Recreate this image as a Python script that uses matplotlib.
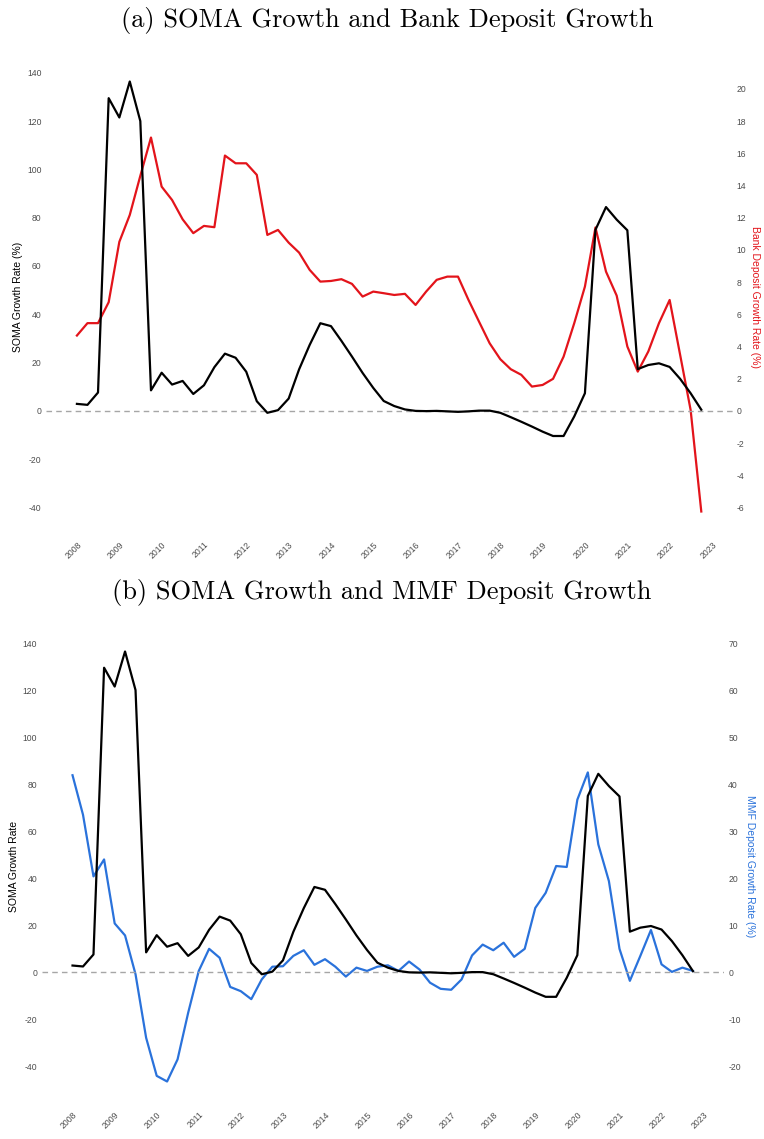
import numpy as np
import pandas as pd
import matplotlib
matplotlib.use("Agg")
import matplotlib.pyplot as plt
import matplotlib.dates as mdates

# quarterly observations, 2008Q1 .. 2022Q4
quarters = pd.date_range("2008-01-01", periods=60, freq="QS")

soma_growth = [2.9, 2.5, 7.6, 129.5, 121.5, 136.4, 120.0, 8.5, 15.8, 10.9,
               12.4, 7.0, 10.6, 18.1, 23.7, 22.0, 16.2, 4.0, -0.8, 0.3,
               5.1, 17.2, 27.3, 36.3, 35.1, 29.0, 22.5, 15.7, 9.5, 4.1,
               2.0, 0.6, 0.0, -0.1, 0.0, -0.2, -0.4, -0.2, 0.1, 0.1,
               -0.8, -2.6, -4.5, -6.5, -8.6, -10.4, -10.4, -2.3, 7.3, 75.0,
               84.4, 79.2, 74.8, 17.3, 19.0, 19.7, 18.2, 13.3, 7.3, 0.5]

bank_deposit_growth = [4.68, 5.45, 5.45, 6.75, 10.5, 12.17, 14.6, 16.98, 13.93, 13.1,
                       11.9, 11.04, 11.49, 11.41, 15.86, 15.38, 15.38, 14.66, 10.93, 11.24,
                       10.45, 9.83, 8.76, 8.03, 8.07, 8.18, 7.89, 7.1, 7.41, 7.31,
                       7.2, 7.27, 6.58, 7.41, 8.14, 8.34, 8.34, 6.9, 5.55, 4.2,
                       3.21, 2.59, 2.24, 1.51, 1.61, 1.99, 3.37, 5.45, 7.72, 11.39,
                       8.65, 7.16, 4.0, 2.44, 3.69, 5.45, 6.89, 3.5, 0.06, -6.25]

mmf_deposit_growth = [41.9, 33.5, 20.4, 24.0, 10.4, 7.85, -0.4, -13.9, -22.0, -23.2,
                      -18.5, -8.6, 0.3, 5.0, 3.1, -3.1, -4.0, -5.7, -1.5, 1.2,
                      1.3, 3.5, 4.7, 1.6, 2.8, 1.2, -0.9, 1.0, 0.3, 1.2,
                      1.5, 0.3, 2.3, 0.6, -2.2, -3.5, -3.7, -1.5, 3.6, 5.9,
                      4.7, 6.3, 3.3, 5.0, 13.7, 16.9, 22.6, 22.4, 36.7, 42.5,
                      27.2, 19.4, 5.0, -1.8, 3.5, 9.0, 1.7, 0.1, 1.0, 0.3]

year_ticks = pd.date_range("2008-01-01", "2023-01-01", freq="YS")

W, H = 764, 1139
TICK_GREY = "#4D4D4D"
RED = "#E3141B"
BLUE = "#2A72DB"

plt.rcParams["font.family"] = ["Liberation Sans", "DejaVu Sans"]
plt.rcParams["axes.unicode_minus"] = False
fig = plt.figure(figsize=(W / 100, H / 100), dpi=100)


def expand(lo, hi, frac=0.05):
    r = hi - lo
    return lo - r * frac, hi + r * frac


def panel(box, right_vals, factor, color, left_label, right_label, right_ticks):
    x0, y0, x1, y1 = box
    ax = fig.add_axes([x0 / W, 1 - y1 / H, (x1 - x0) / W, (y1 - y0) / H])
    xn = mdates.date2num(quarters)
    xlo, xhi = expand(xn.min(), xn.max())
    scaled = np.array(right_vals) / factor
    ylo, yhi = expand(min(min(soma_growth), scaled.min()), max(max(soma_growth), scaled.max()))

    ax.axhline(0, color="#A6A6A6", lw=1.0, ls=(0, (4, 3)), zorder=1)
    ax.plot(quarters, soma_growth, color="black", lw=1.6, zorder=3)
    ax2 = ax.twinx()
    ax2.plot(quarters, right_vals, color=color, lw=1.6, zorder=2)

    ax.set_xlim(xlo, xhi)
    ax.set_ylim(ylo, yhi)
    ax2.set_ylim(ylo * factor, yhi * factor)

    ax.set_yticks(np.arange(-40, 141, 20))
    ax2.set_yticks(right_ticks)
    ax.set_xticks(year_ticks)
    ax.set_xticklabels([str(d.year) for d in year_ticks], rotation=45, ha="right",
                       va="top", rotation_mode="anchor")

    for a in (ax, ax2):
        for s in a.spines.values():
            s.set_visible(False)
        a.tick_params(length=0, labelsize=6.2, labelcolor=TICK_GREY, pad=3)
    ax.tick_params(axis="x", pad=5)

    ax.set_ylabel(left_label, fontsize=7.5, color="black", labelpad=3)
    ax2.set_ylabel(right_label, fontsize=7.5, color=color, rotation=270, labelpad=10)
    ax.set_zorder(ax2.get_zorder() + 1)
    ax.patch.set_visible(False)
    return ax


panel((45.7, 60, 732.5, 533), bank_deposit_growth, 0.15, RED,
      "SOMA Growth Rate (%)", "Bank Deposit Growth Rate (%)", np.arange(-6, 21, 2))
panel((41.5, 630, 724, 1103), mmf_deposit_growth, 0.5, BLUE,
      "SOMA Growth Rate", "MMF Deposit Growth Rate (%)", np.arange(-20, 71, 10))

fig.text(387 / W, 1 - 20 / H, "(a) SOMA Growth and Bank Deposit Growth",
         family="cmr10", fontsize=19, ha="center", va="center")
fig.text(382 / W, 1 - 592 / H, "(b) SOMA Growth and MMF Deposit Growth",
         family="cmr10", fontsize=19, ha="center", va="center")

fig.savefig("out.png", dpi=100, facecolor="white")
